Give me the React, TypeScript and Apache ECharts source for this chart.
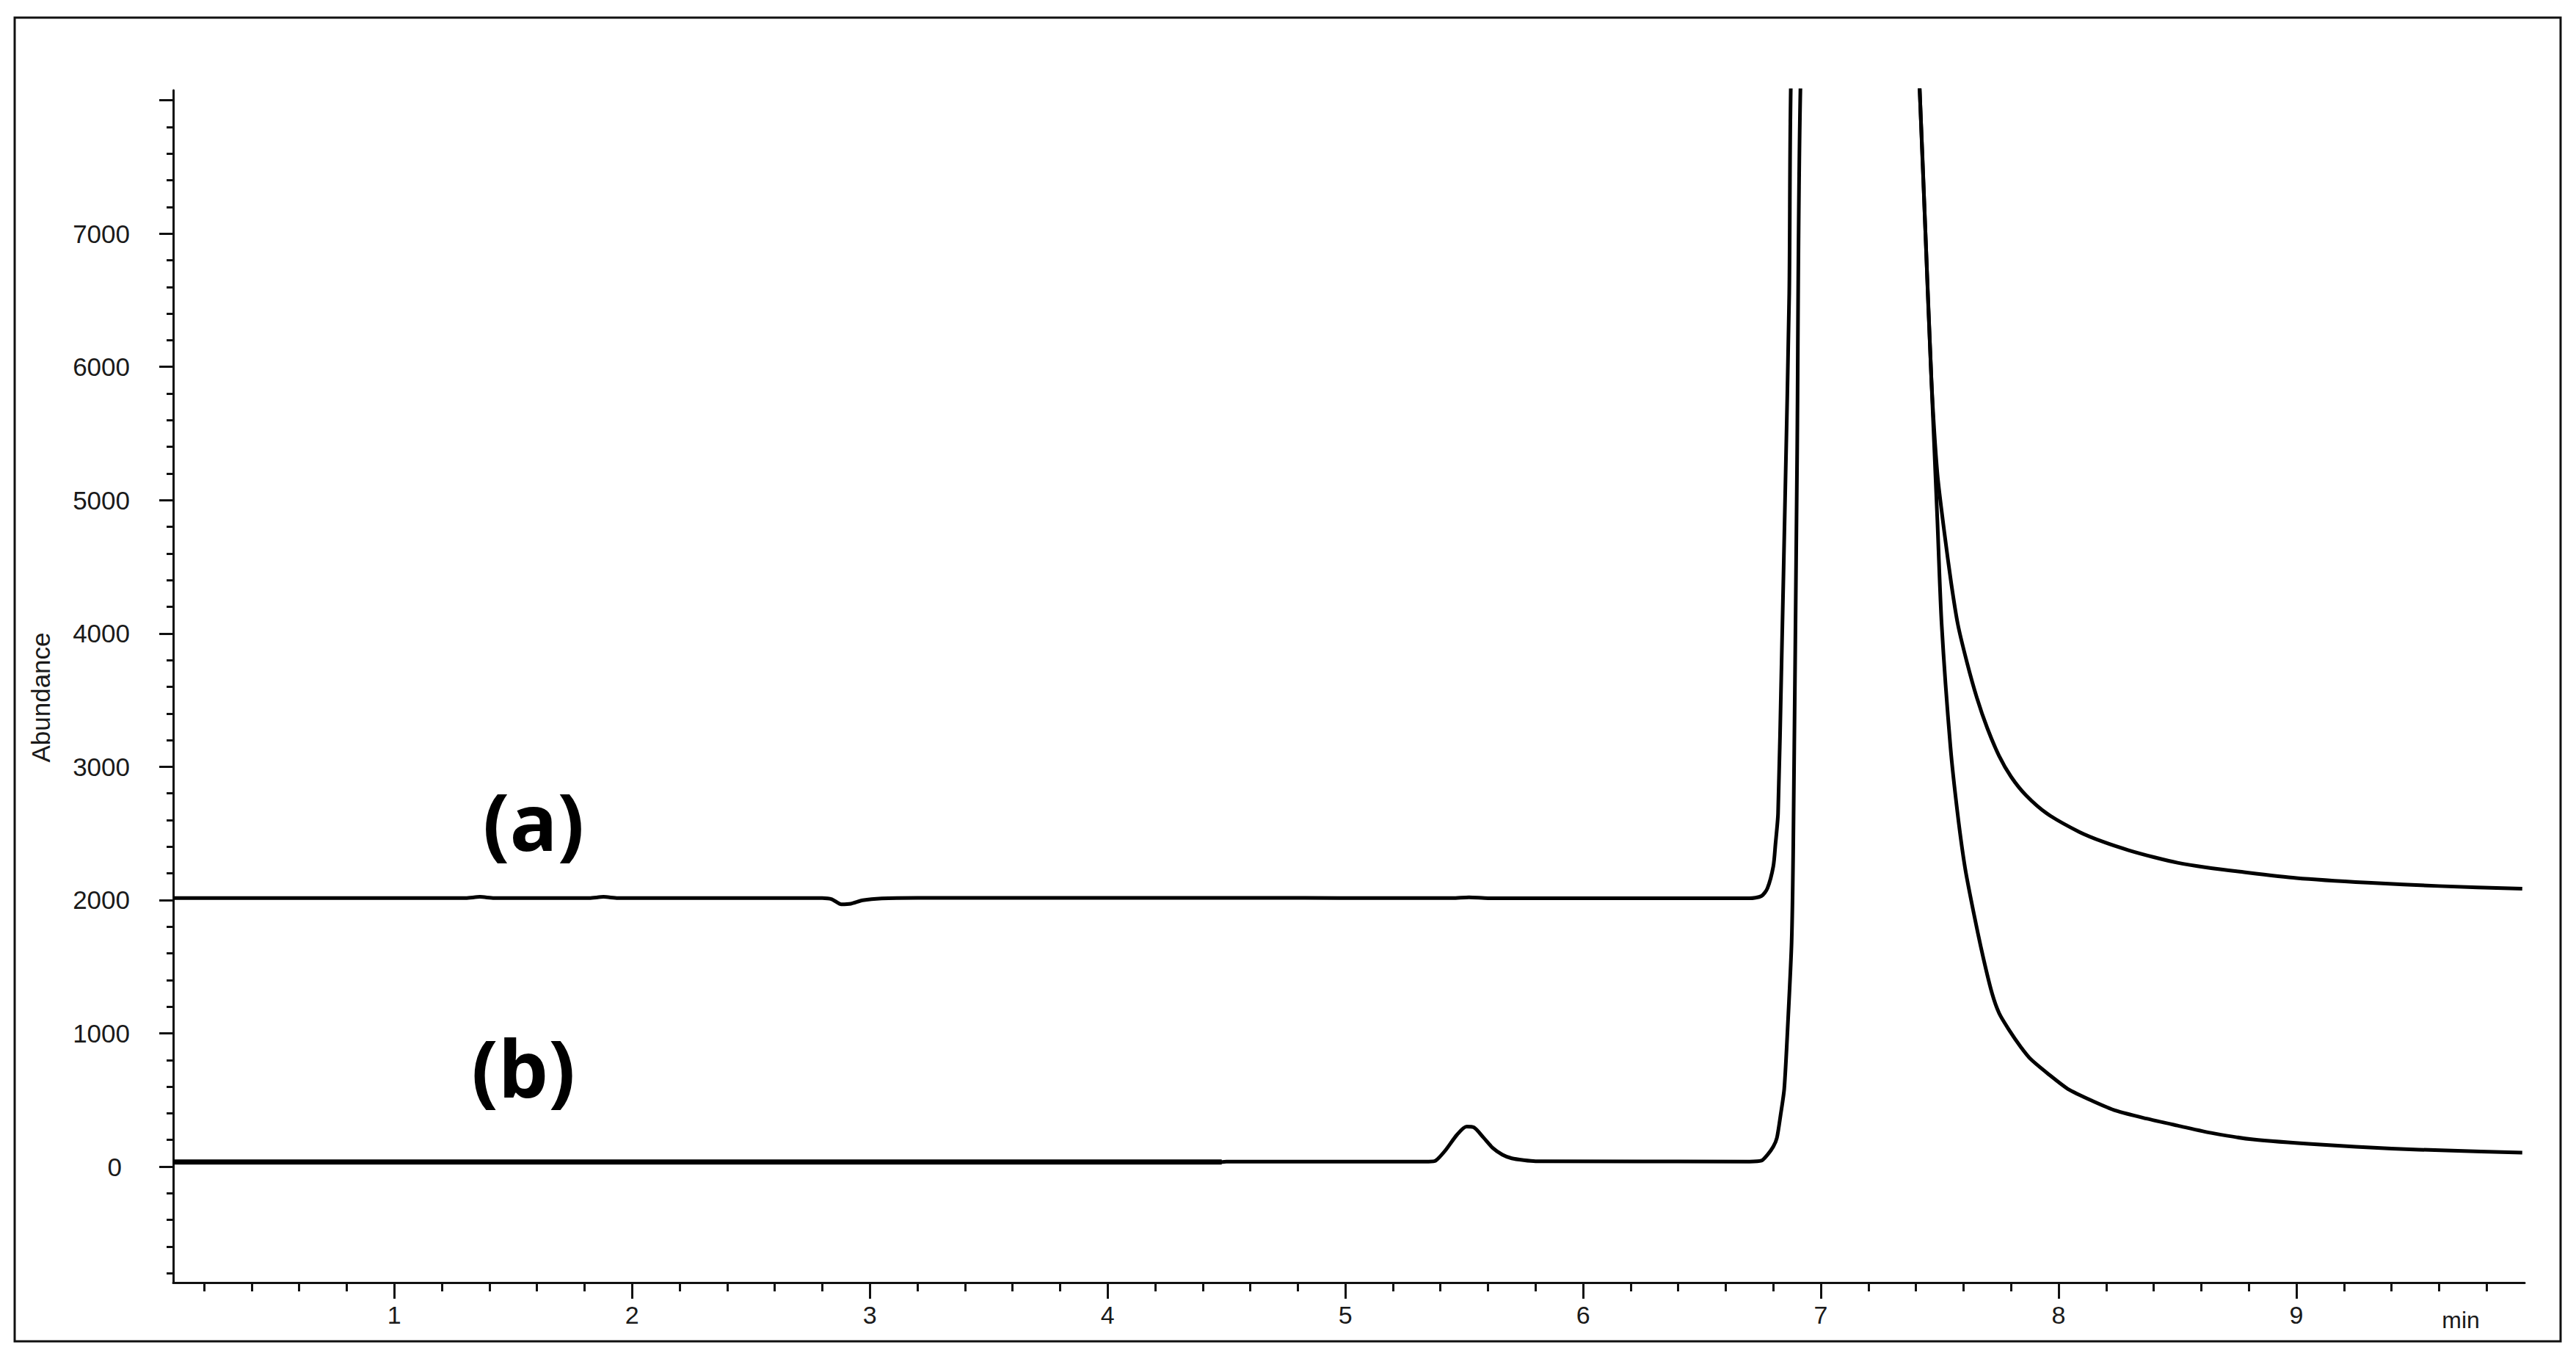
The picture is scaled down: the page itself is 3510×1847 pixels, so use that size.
import React, { useEffect, useRef } from "react";
import * as echarts from "echarts";

// ---- axis ranges (minutes / abundance) ----
const X_MIN = 0.07;
const X_MAX = 9.96;
const Y_MIN = -870;
const Y_MAX = 8075;

// ---- ticks & labels ----
const xMajorTicks = [1, 2, 3, 4, 5, 6, 7, 8, 9];
const xMinorTicks = [
  0.2, 0.4, 0.6, 0.8, 1.2, 1.4, 1.6, 1.8, 2.2, 2.4, 2.6, 2.8, 3.2, 3.4, 3.6, 3.8,
  4.2, 4.4, 4.6, 4.8, 5.2, 5.4, 5.6, 5.8, 6.2, 6.4, 6.6, 6.8, 7.2, 7.4, 7.6, 7.8,
  8.2, 8.4, 8.6, 8.8, 9.2, 9.4, 9.6, 9.8,
];
const yMajorTicks = [0, 1000, 2000, 3000, 4000, 5000, 6000, 7000, 8000];
const yLabelValues = [0, 1000, 2000, 3000, 4000, 5000, 6000, 7000];
const yMinorTicks = [
  -800, -600, -400, -200, 200, 400, 600, 800, 1200, 1400, 1600, 1800, 2200, 2400,
  2600, 2800, 3200, 3400, 3600, 3800, 4200, 4400, 4600, 4800, 5200, 5400, 5600,
  5800, 6200, 6400, 6600, 6800, 7200, 7400, 7600, 7800,
];

// ---- chromatogram (a): [time (min), abundance] ----
const traceA: [number, number][] = [
  [0.07, 2015], [1.30, 2015], [1.36, 2024], [1.42, 2015], [1.82, 2015], [1.88, 2024],
  [1.94, 2015], [2.80, 2015], [2.84, 2006], [2.88, 1968], [2.92, 1972], [2.97, 1998],
  [3.05, 2012], [3.20, 2016], [4.50, 2016], [5.45, 2015], [5.52, 2021], [5.60, 2014],
  [6.70, 2013], [6.75, 2030], [6.775, 2087], [6.80, 2253], [6.809, 2418], [6.82, 2650],
  [6.835, 3800], [6.85, 5050], [6.867, 6550], [6.876, 8300], [7.10, 20000],
  [7.414, 8150], [7.44, 7000], [7.465, 5900], [7.49, 5200], [7.52, 4750], [7.548, 4380],
  [7.576, 4070], [7.615, 3780], [7.656, 3519], [7.70, 3290], [7.75, 3080], [7.80, 2925],
  [7.862, 2787], [7.95, 2650], [8.087, 2511], [8.19, 2435], [8.294, 2374], [8.40, 2322],
  [8.50, 2280], [8.62, 2245], [8.756, 2214], [9.00, 2165], [9.30, 2130], [9.60, 2105],
  [9.95, 2085],
];

// ---- chromatogram (b) ----
const traceB: [number, number][] = [
  [0.07, 35], [4.48, 35], [4.50, 38], [5.35, 38], [5.38, 45], [5.42, 120], [5.47, 240],
  [5.51, 300], [5.54, 295], [5.58, 220], [5.62, 140], [5.66, 90], [5.70, 62], [5.75, 48],
  [5.80, 40], [6.70, 38], [6.75, 45], [6.775, 88], [6.80, 150], [6.815, 215], [6.83, 380],
  [6.846, 584], [6.862, 1100], [6.877, 1685], [6.884, 2418], [6.90, 5300], [6.917, 8300],
  [7.15, 20000], [7.414, 8150], [7.44, 7000], [7.465, 5900], [7.49, 4850], [7.508, 4070],
  [7.545, 3150], [7.575, 2650], [7.607, 2236], [7.647, 1867], [7.684, 1560], [7.72, 1300],
  [7.75, 1150], [7.79, 1030], [7.84, 900], [7.884, 804], [7.96, 690], [8.038, 584],
  [8.14, 495], [8.242, 419], [8.37, 360], [8.50, 308], [8.65, 250], [8.818, 204],
  [9.10, 165], [9.40, 135], [9.63, 121], [9.95, 105],
];

// overlapping second trace visible on the left part of (b)
const traceBOverlap: [number, number][] = [
  [0.07, 35], [4.48, 35],
];

const FONT = "'Liberation Sans', Arial, sans-serif";
const INK = "#111";

export default function App() {
  const ref = useRef<HTMLDivElement>(null);

  useEffect(() => {
    if (!ref.current) return;
    const chart = echarts.init(ref.current, null, { renderer: "svg" });

    const lineSeries = (name: string, data: [number, number][], width: number) => ({
      name,
      type: "line",
      data,
      xAxisIndex: 0,
      yAxisIndex: 0,
      showSymbol: false,
      symbol: "none",
      clip: true,
      smooth: 0.25,
      lineStyle: { color: "#000", width, join: "round", cap: "butt" },
      emphasis: { disabled: true },
      z: 3,
    });

    const option: any = {
      animation: false,
      backgroundColor: "#ffffff",
      grid: {
        left: 236,
        right: 70,
        top: 123,
        bottom: 100,
        containLabel: false,
        outerBoundsMode: "none",
      },
      xAxis: [
        {
          type: "value",
          min: X_MIN,
          max: X_MAX,
          position: "bottom",
          axisLine: { show: true, onZero: false, lineStyle: { color: INK, width: 3 } },
          axisTick: {
            show: true,
            customValues: xMajorTicks,
            length: 22,
            lineStyle: { color: INK, width: 3 },
          },
          axisLabel: {
            show: true,
            customValues: xMajorTicks,
            margin: 27,
            fontSize: 34,
            fontFamily: FONT,
            color: "#1a1a1a",
          },
          splitLine: { show: false },
        },
        {
          type: "value",
          min: X_MIN,
          max: X_MAX,
          position: "bottom",
          axisLine: { show: false, onZero: false },
          axisTick: {
            show: true,
            customValues: xMinorTicks,
            length: 12,
            lineStyle: { color: INK, width: 3 },
          },
          axisLabel: { show: false },
          splitLine: { show: false },
        },
      ],
      yAxis: [
        {
          type: "value",
          min: Y_MIN,
          max: Y_MAX,
          position: "left",
          axisLine: { show: true, onZero: false, lineStyle: { color: INK, width: 3 } },
          axisTick: {
            show: true,
            customValues: yMajorTicks,
            length: 19,
            lineStyle: { color: INK, width: 3 },
          },
          axisLabel: {
            show: true,
            customValues: yLabelValues,
            margin: 59,
            fontSize: 35,
            fontFamily: FONT,
            color: "#1a1a1a",
            formatter: (v: number) => (v === 0 ? "{z|0}" : String(v)),
            rich: {
              z: { fontSize: 35, fontFamily: FONT, color: "#1a1a1a", padding: [0, 11, 0, 0] },
            },
          },
          splitLine: { show: false },
        },
        {
          type: "value",
          min: Y_MIN,
          max: Y_MAX,
          position: "left",
          axisLine: { show: false, onZero: false },
          axisTick: {
            show: true,
            customValues: yMinorTicks,
            length: 9,
            lineStyle: { color: INK, width: 3 },
          },
          axisLabel: { show: false },
          splitLine: { show: false },
        },
      ],
      series: [
        lineSeries("(b) overlap", traceBOverlap, 7),
        lineSeries("(b)", traceB, 5),
        lineSeries("(a)", traceA, 5),
      ],
      graphic: [
        {
          type: "rect",
          shape: { x: 20, y: 24, width: 3469, height: 1803 },
          style: { fill: "none", stroke: INK, lineWidth: 3 },
          silent: true,
          z: 10,
        },
        {
          type: "text",
          x: 55,
          y: 950,
          rotation: Math.PI / 2,
          style: {
            text: "Abundance",
            font: `35px ${FONT}`,
            fill: "#1a1a1a",
            align: "center",
            verticalAlign: "middle",
          },
          silent: true,
        },
        {
          type: "text",
          x: 3353,
          y: 1798,
          style: {
            text: "min",
            font: `32px ${FONT}`,
            fill: "#1a1a1a",
            align: "center",
            verticalAlign: "middle",
          },
          silent: true,
        },
        {
          type: "text",
          x: 727,
          y: 1117,
          style: {
            text: "(a)",
            font: `bold 108px 'Open Sans', Lato, sans-serif`,
            fill: "#000",
            align: "center",
            verticalAlign: "middle",
          },
          silent: true,
        },
        {
          type: "text",
          x: 713,
          y: 1453,
          style: {
            text: "(b)",
            font: `bold 108px 'Open Sans', Lato, sans-serif`,
            fill: "#000",
            align: "center",
            verticalAlign: "middle",
          },
          silent: true,
        },
      ],
    };

    chart.setOption(option);
    return () => chart.dispose();
  }, []);

  return (
    <div
      ref={ref}
      style={{ position: "fixed", left: 0, top: 0, width: 3510, height: 1847, background: "#fff" }}
    />
  );
}
